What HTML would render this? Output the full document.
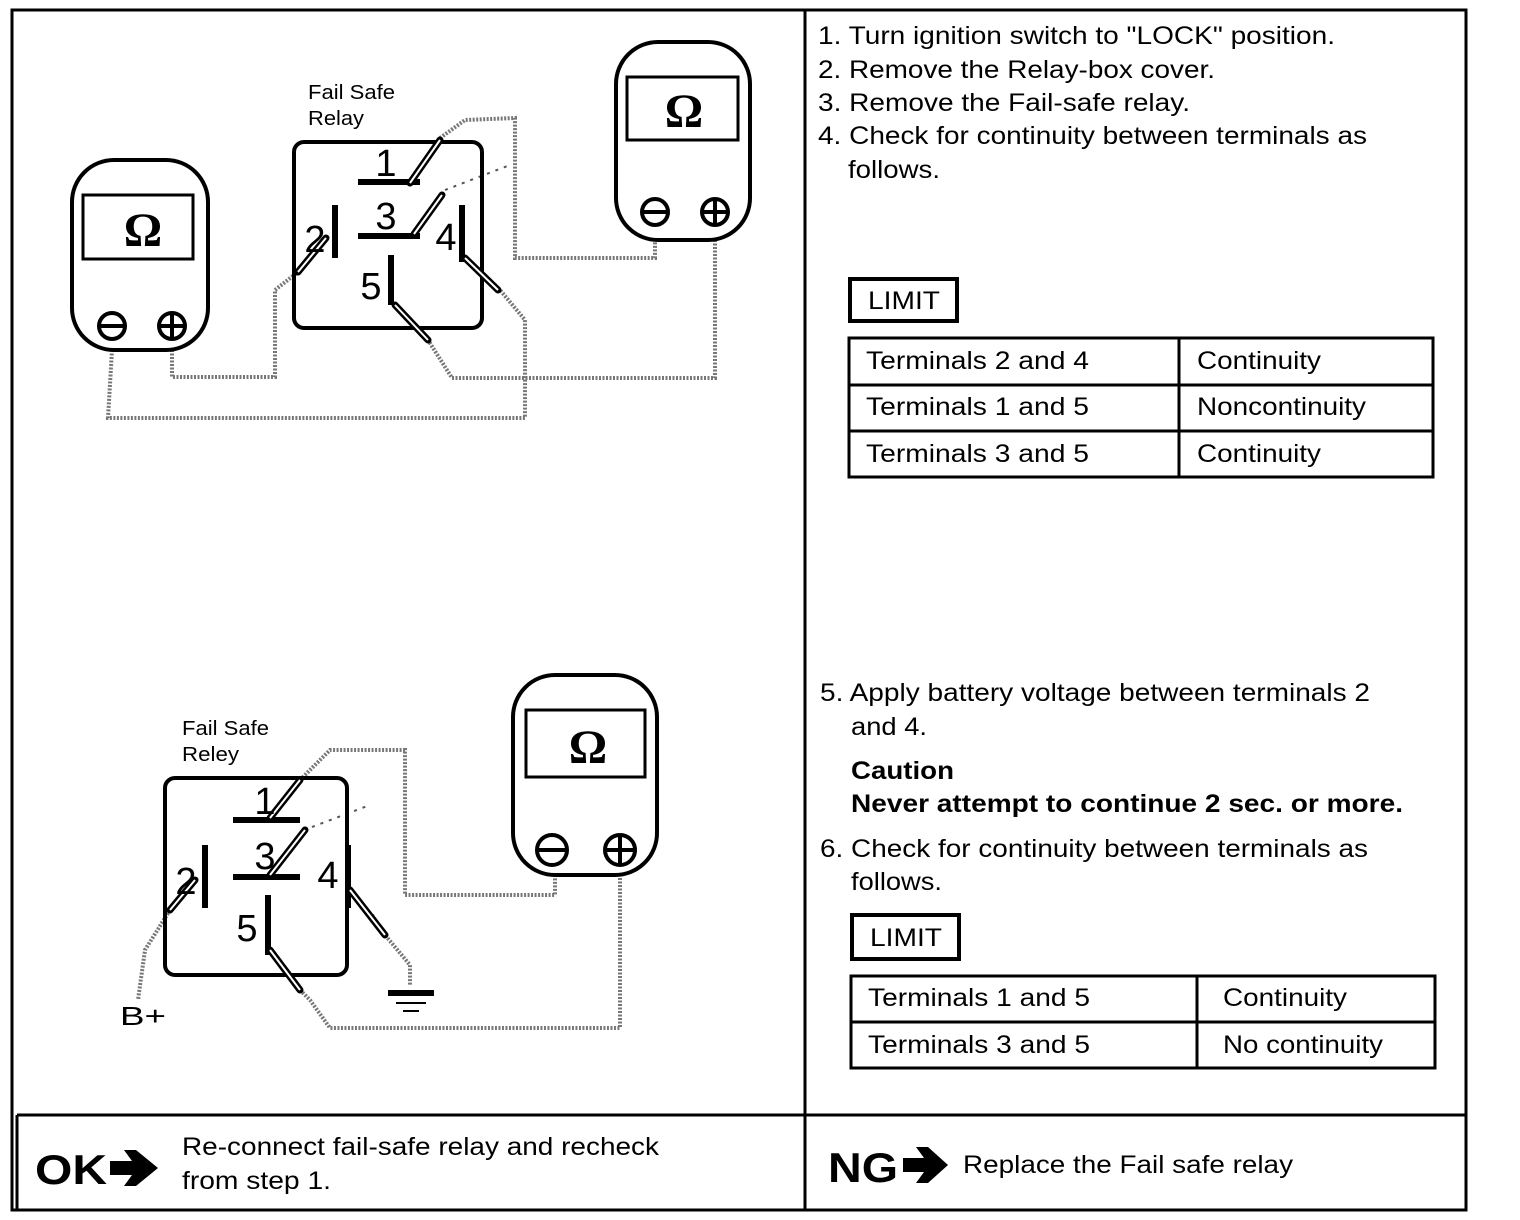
<!DOCTYPE html>
<html><head><style>
html,body{margin:0;padding:0;background:#fff;}
svg{display:block;font-family:"Liberation Sans",Arial,sans-serif;}
</style></head><body>
<svg width="1520" height="1220" viewBox="0 0 1520 1220" xmlns="http://www.w3.org/2000/svg">
<rect x="0" y="0" width="1520" height="1220" fill="#fff"/>
<g fill="none" stroke="#000" stroke-width="3">
<rect x="12" y="10" width="1454" height="1200"/>
<line x1="805" y1="10" x2="805" y2="1210"/>
<line x1="17" y1="1115" x2="1466" y2="1115"/>
<line x1="17" y1="1115" x2="17" y2="1210"/>
</g>
<g fill="none" stroke="#777" stroke-width="4" stroke-dasharray="2,1.5">
<polyline points="440,138 465,120 515,118 515,258 655,258 655,240"/>
<polyline points="112,350 108,418 525,418 525,320 500,290"/>
<polyline points="172,350 172,377 275,377 275,290 298,272"/>
<polyline points="715,240 715,378 452,378 428,340"/>
<polyline points="300,780 330,750 405,750 405,895 555,895 555,875"/>
<polyline points="170,910 145,950 138,1000"/>
<polyline points="372,915 385,935 410,965 410,985"/>
<polyline points="300,990 310,1000 330,1028 620,1028 620,875"/>
</g>
<g stroke="#555" stroke-width="2" stroke-dasharray="3,6" fill="none">
<line x1="445" y1="190" x2="510" y2="165"/>
<line x1="312" y1="827" x2="370" y2="805"/>
</g>
<g fill="none" stroke="#000" stroke-width="4">
<rect x="72" y="160" width="136" height="190" rx="42"/>
<rect x="83" y="195" width="110" height="64" stroke-width="3"/>
<circle cx="112" cy="326" r="13"/><line x1="99" y1="326" x2="125" y2="326"/>
<circle cx="172" cy="326" r="13"/><line x1="159" y1="326" x2="185" y2="326"/><line x1="172" y1="313" x2="172" y2="339"/>
<rect x="616" y="42" width="134" height="198" rx="42"/>
<rect x="627" y="77" width="111" height="63" stroke-width="3"/>
<circle cx="655" cy="212" r="13"/><line x1="642" y1="212" x2="668" y2="212"/>
<circle cx="715" cy="212" r="13"/><line x1="702" y1="212" x2="728" y2="212"/><line x1="715" y1="199" x2="715" y2="225"/>
<rect x="513" y="675" width="144" height="200" rx="42"/>
<rect x="526" y="710" width="119" height="67" stroke-width="3"/>
<circle cx="552" cy="850" r="15"/><line x1="537" y1="850" x2="567" y2="850"/>
<circle cx="620" cy="850" r="15"/><line x1="605" y1="850" x2="635" y2="850"/><line x1="620" y1="835" x2="620" y2="865"/>
<rect x="294" y="142" width="188" height="186" rx="10"/>
<rect x="165" y="778" width="182" height="197" rx="10"/>
</g>
<g font-family="Liberation Serif,serif" font-weight="bold" font-size="48" text-anchor="middle">
<text x="143" y="246">Ω</text><text x="684" y="127">Ω</text><text x="588" y="763">Ω</text>
</g>
<g stroke="#000" stroke-width="6" fill="none">
<line x1="358" y1="182" x2="420" y2="182"/>
<line x1="358" y1="236" x2="420" y2="236"/>
<line x1="335" y1="205" x2="335" y2="258"/>
<line x1="462" y1="205" x2="462" y2="262"/>
<line x1="391" y1="255" x2="391" y2="305"/>
<line x1="233" y1="820" x2="300" y2="820"/>
<line x1="233" y1="877" x2="300" y2="877"/>
<line x1="205" y1="845" x2="205" y2="908"/>
<line x1="348" y1="845" x2="348" y2="908"/>
<line x1="268" y1="895" x2="268" y2="955"/>
</g>
<g stroke="#000" stroke-width="7" fill="none" stroke-linecap="round">
<line x1="410" y1="183" x2="440" y2="140"/>
<line x1="414" y1="234" x2="442" y2="195"/>
<line x1="298" y1="272" x2="326" y2="238"/>
<line x1="465" y1="258" x2="498" y2="290"/>
<line x1="395" y1="305" x2="428" y2="340"/>
<line x1="270" y1="818" x2="300" y2="780"/>
<line x1="270" y1="875" x2="305" y2="830"/>
<line x1="170" y1="910" x2="195" y2="880"/>
<line x1="350" y1="890" x2="385" y2="935"/>
<line x1="270" y1="950" x2="300" y2="990"/>
</g>
<g stroke="#fff" stroke-width="2" fill="none">
<line x1="410" y1="183" x2="440" y2="140"/>
<line x1="414" y1="234" x2="442" y2="195"/>
<line x1="298" y1="272" x2="326" y2="238"/>
<line x1="465" y1="258" x2="498" y2="290"/>
<line x1="395" y1="305" x2="428" y2="340"/>
<line x1="270" y1="818" x2="300" y2="780"/>
<line x1="270" y1="875" x2="305" y2="830"/>
<line x1="170" y1="910" x2="195" y2="880"/>
<line x1="350" y1="890" x2="385" y2="935"/>
<line x1="270" y1="950" x2="300" y2="990"/>
</g>
<g stroke="#000">
<line x1="388" y1="993" x2="434" y2="993" stroke-width="6"/>
<line x1="396" y1="1003" x2="426" y2="1003" stroke-width="2"/>
<line x1="403" y1="1011" x2="419" y2="1011" stroke-width="2"/>
</g>
<g font-size="38" text-anchor="middle">
<text x="386" y="176">1</text><text x="386" y="229">3</text><text x="315" y="252">2</text><text x="446" y="250">4</text><text x="371" y="299">5</text>
<text x="265" y="814">1</text><text x="265" y="869">3</text><text x="186" y="894">2</text><text x="328" y="888">4</text><text x="247" y="941">5</text>
</g>
<g font-size="20" lengthAdjust="spacingAndGlyphs">
<text x="308" y="99" textLength="87" lengthAdjust="spacingAndGlyphs">Fail Safe</text><text x="308" y="125" textLength="56" lengthAdjust="spacingAndGlyphs">Relay</text>
<text x="182" y="735" textLength="87" lengthAdjust="spacingAndGlyphs">Fail Safe</text><text x="182" y="761" textLength="57" lengthAdjust="spacingAndGlyphs">Reley</text>
<text x="120" y="1025" font-size="26" textLength="46" lengthAdjust="spacingAndGlyphs">B+</text>
</g>
<g font-size="25">
<text x="818" y="44" textLength="517" lengthAdjust="spacingAndGlyphs">1. Turn ignition switch to "LOCK" position.</text>
<text x="818" y="78" textLength="397" lengthAdjust="spacingAndGlyphs">2. Remove the Relay-box cover.</text>
<text x="818" y="111" textLength="372" lengthAdjust="spacingAndGlyphs">3. Remove the Fail-safe relay.</text>
<text x="818" y="144" textLength="549" lengthAdjust="spacingAndGlyphs">4. Check for continuity between terminals as</text>
<text x="848" y="178" textLength="92" lengthAdjust="spacingAndGlyphs">follows.</text>
<text x="820" y="701" textLength="550" lengthAdjust="spacingAndGlyphs">5. Apply battery voltage between terminals 2</text>
<text x="851" y="735" textLength="76" lengthAdjust="spacingAndGlyphs">and 4.</text>
<text x="851" y="779" font-weight="bold" textLength="103" lengthAdjust="spacingAndGlyphs">Caution</text>
<text x="851" y="812" font-weight="bold" textLength="552" lengthAdjust="spacingAndGlyphs">Never attempt to continue 2 sec. or more.</text>
<text x="820" y="857" textLength="548" lengthAdjust="spacingAndGlyphs">6. Check for continuity between terminals as</text>
<text x="851" y="890" textLength="91" lengthAdjust="spacingAndGlyphs">follows.</text>
</g>
<g fill="none" stroke="#000" stroke-width="3">
<rect x="850" y="279" width="107" height="42" stroke-width="4"/>
<rect x="849" y="338" width="584" height="139"/>
<line x1="849" y1="385" x2="1433" y2="385"/><line x1="849" y1="431" x2="1433" y2="431"/>
<line x1="1179" y1="338" x2="1179" y2="477"/>
<rect x="852" y="915" width="107" height="44" stroke-width="4"/>
<rect x="851" y="976" width="584" height="92"/>
<line x1="851" y1="1022" x2="1435" y2="1022"/>
<line x1="1197" y1="976" x2="1197" y2="1068"/>
</g>
<g font-size="25">
<text x="868" y="309" textLength="72" lengthAdjust="spacingAndGlyphs">LIMIT</text>
<text x="866" y="369" textLength="223" lengthAdjust="spacingAndGlyphs">Terminals 2 and 4</text><text x="1197" y="369" textLength="124" lengthAdjust="spacingAndGlyphs">Continuity</text>
<text x="866" y="415" textLength="223" lengthAdjust="spacingAndGlyphs">Terminals 1 and 5</text><text x="1197" y="415" textLength="169" lengthAdjust="spacingAndGlyphs">Noncontinuity</text>
<text x="866" y="462" textLength="223" lengthAdjust="spacingAndGlyphs">Terminals 3 and 5</text><text x="1197" y="462" textLength="124" lengthAdjust="spacingAndGlyphs">Continuity</text>
<text x="870" y="946" textLength="72" lengthAdjust="spacingAndGlyphs">LIMIT</text>
<text x="868" y="1006" textLength="222" lengthAdjust="spacingAndGlyphs">Terminals 1 and 5</text><text x="1223" y="1006" textLength="124" lengthAdjust="spacingAndGlyphs">Continuity</text>
<text x="868" y="1053" textLength="222" lengthAdjust="spacingAndGlyphs">Terminals 3 and 5</text><text x="1223" y="1053" textLength="160" lengthAdjust="spacingAndGlyphs">No continuity</text>
</g>
<g font-size="25">
<text x="182" y="1155" textLength="477" lengthAdjust="spacingAndGlyphs">Re-connect fail-safe relay and recheck</text>
<text x="182" y="1189" textLength="149" lengthAdjust="spacingAndGlyphs">from step 1.</text>
<text x="963" y="1173" textLength="330" lengthAdjust="spacingAndGlyphs">Replace the Fail safe relay</text>
</g>
<g font-size="42" font-weight="bold">
<text x="35" y="1184" textLength="72" lengthAdjust="spacingAndGlyphs">OK</text><text x="828" y="1182" textLength="70" lengthAdjust="spacingAndGlyphs">NG</text>
</g>
<g fill="#000">
<polygon points="110,1161 132,1161 124,1150 136,1150 158,1168 136,1186 124,1186 132,1175 110,1175"/>
<polygon points="903,1158 924,1158 916,1147 928,1147 948,1165 928,1183 916,1183 924,1172 903,1172"/>
</g>
</svg>
</body></html>
